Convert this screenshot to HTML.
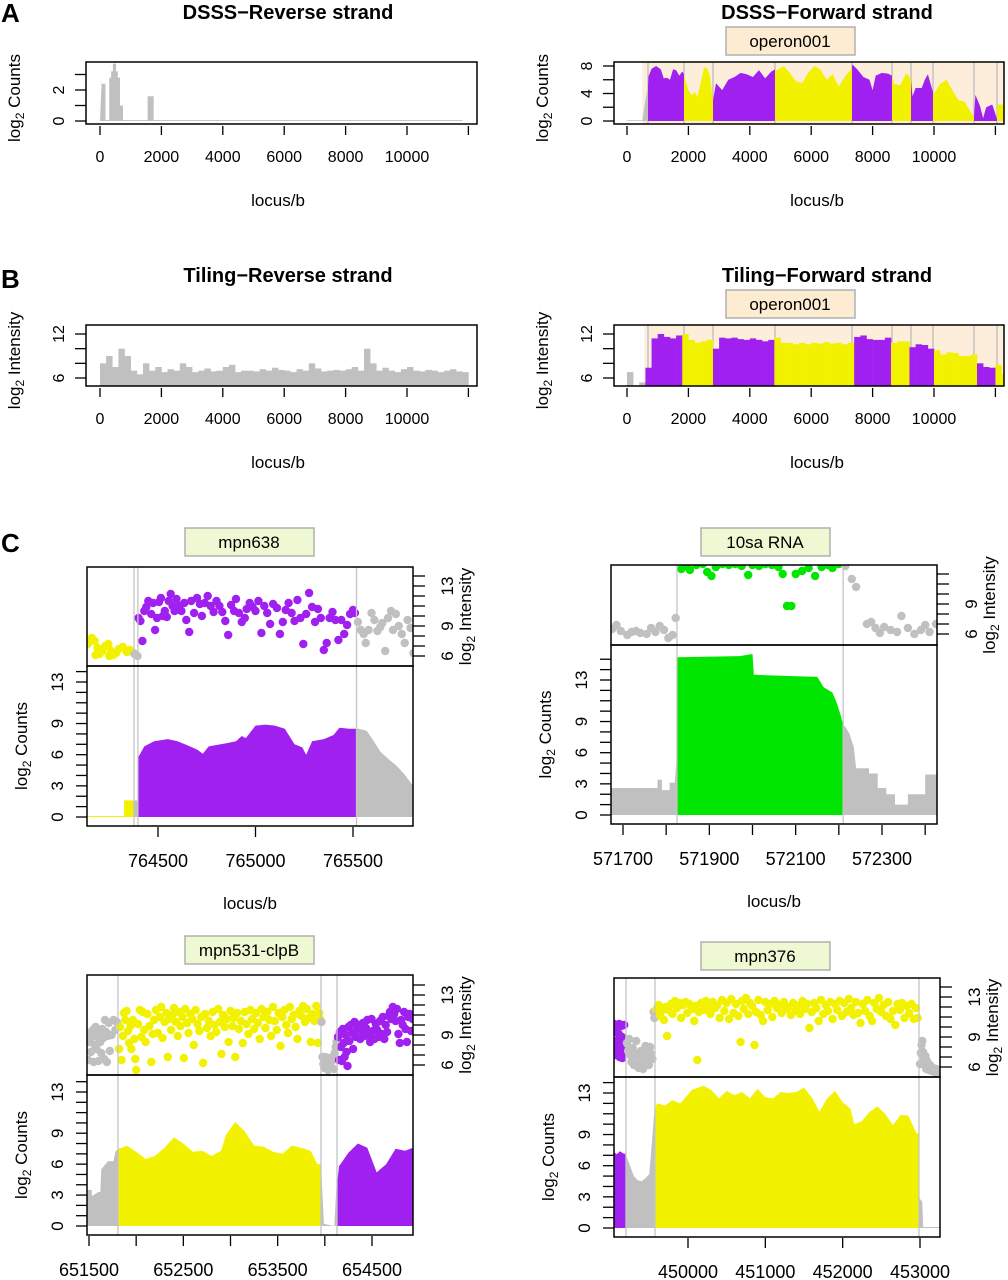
<!DOCTYPE html>
<html><head><meta charset="utf-8"><title>Transcription profiles</title>
<style>
html,body{margin:0;padding:0;background:#fff;}
svg{display:block;font-family:"Liberation Sans",Arial,sans-serif;}
</style></head>
<body>
<svg id="chart" width="1008" height="1280" viewBox="0 0 1008 1280" xmlns="http://www.w3.org/2000/svg"></svg>
<script>
// ---------- DATA ----------
const opBounds=[684,1857,2801,4821,7329,8632,9251,9967,11303,12052];
const opColors=['gray','purple','yellow','purple','yellow','purple','yellow','purple','yellow','purple','yellow'];
const aRevX=[0,0,60,60,180,180,300,300,360,360,420,420,520,520,580,580,650,650,750,750,1550,1550,1750,1750,11800];
const aRevY=[0,2.8,2.8,2.4,2.4,0.06,0.06,2.8,2.8,3.2,3.2,3.7,3.7,3.2,3.2,2.8,2.8,1.0,1.0,0.06,0.06,1.6,1.6,0.06,0.06];
const aFwdX=[0,500,600,684,700,800,950,1100,1200,1300,1400,1500,1600,1700,1800,1857,1900,2000,2100,2200,2300,2400,2500,2600,2700,2801,2900,3100,3300,3500,3700,3900,4100,4300,4500,4700,4821,4900,5100,5300,5500,5700,5900,6100,6300,6500,6700,6900,7100,7300,7350,7500,7700,7900,8000,8100,8300,8500,8632,8700,8900,9100,9251,9300,9400,9600,9700,9800,9967,10000,10200,10400,10600,10800,11000,11100,11303,11350,11500,11600,11700,11900,12052,12060,12280];
const aFwdY=[0.1,0.1,3,5,6.5,7.6,8,7.5,6.2,6.3,6,7.5,7.4,6.6,7.2,6.8,6,4.5,3.8,4.2,3.6,5.5,7.7,7.8,6.5,3,5.5,4.5,6,6.4,7,6.8,6.4,7.4,6.2,7.2,7.5,7.4,8,7,5.8,5.5,7,8,7.5,6,6.8,5,6.5,7.5,8.2,7.5,6.4,6,4.5,6.6,7,6.9,6.6,5.4,5.2,7,6,3.6,4.8,4.8,6,6.8,4.2,4,5.4,6,4.5,3,2.8,2,0.6,3.8,2.2,0.4,2,2.4,0.3,2.4,2.4];
const bStep=200;
const bRevVals=[8,9,7.5,10,9,7,6.5,8,7,7.5,6.8,7.2,7,8,7.5,6.8,7,7.3,6.9,7,7.5,7.8,6.8,7,7,6.9,7.2,7,7.4,7.1,7,6.8,7.2,7,8,7.3,6.9,7,7.1,7,7.2,7.5,7,10,8,7,7.4,7,6.8,7.2,7.5,7,6.9,7.1,7,6.8,7,7.2,6.9,6.8];
const bFwdVals=[6.8,5,5.4,7.4,11.4,12,11.6,11.4,11.8,12,11.2,10.8,11,11.2,10,11.5,11.4,11.5,11.3,11.2,11.4,11.2,11,11.2,11.5,10.8,10.8,10.6,10.8,10.6,10.8,10.7,10.9,10.7,10.8,10.6,10.8,11.6,11.8,11.3,11.2,11.2,11.5,10.8,11,11,10.2,10.6,10.5,10,9.8,9.2,9.5,9.4,9,9,9.2,8,7.5,7.4,7.8,6.5];
// C1 mpn638
const c1Bounds=[764377,764397,765518];
const c1Colors=['yellow','gray','purple','gray'];
const c1CntX=[764136,764326,764326,764397,764400,764430,764480,764550,764600,764650,764700,764730,764760,764850,764900,764930,764950,765000,765050,765100,765150,765200,765240,765260,765290,765350,765400,765430,765480,765518,765530,765570,765600,765640,765680,765720,765760,765800,765812];
const c1CntY=[0.1,0.1,1.6,1.6,5.8,6.8,7.3,7.5,7.3,6.9,6.5,6.1,6.8,7.1,7.3,7.8,7.6,8.8,8.9,8.8,8.5,7,6.7,6.0,7.3,7.5,7.9,8.6,8.5,8.5,8.5,8.3,7.5,6.3,5.6,5,4.2,3.2,3];
const c1PtX=[764140,764160,764175,764190,764200,764215,764230,764245,764260,764270,764285,764300,764320,764340,764355,764375,764180,764250,764380,764395,764400,764410,764420,764430,764440,764450,764465,764475,764485,764495,764505,764515,764525,764535,764545,764555,764565,764575,764585,764595,764610,764620,764635,764645,764660,764670,764685,764700,764715,764725,764740,764755,764770,764785,764800,764815,764830,764845,764860,764875,764890,764900,764915,764930,764945,764955,764970,764985,765000,765015,765030,765045,765060,765075,765090,765110,765125,765140,765155,765170,765185,765200,765215,765230,765245,765260,765275,765290,765305,765320,765335,765350,765365,765380,765395,765410,765425,765440,765455,765470,765485,765500,765510,765525,765540,765555,765565,765580,765595,765610,765625,765640,765650,765665,765680,765695,765705,765720,765735,765750,765765,765780,765795,765810];
const c1PtV=[7.2,7.8,7.5,6.8,6.2,6.5,7,7.2,6.5,6.1,6.3,6.7,6.9,6.4,6.6,6.3,6.1,6.0,6.2,6.0,9.8,9.5,7.5,10.5,10.9,11.5,10.2,11.3,8.6,9.8,11.4,11.8,10,10.5,9.9,11.5,12.2,11,10.5,11.7,11,10.5,11.3,9.6,8.4,11.5,10.3,11.8,11.2,10,11.3,12,11,10.4,11.5,11,10.4,9.5,8.1,11.1,10.5,11.7,10.3,9.4,9.8,10.7,11.3,10.9,10.5,11.5,8.3,11,10.3,9.2,11.2,10.8,8.2,9.4,10.6,11.3,10.3,9.5,11.6,9.8,7.2,10.2,12.3,10.9,9.4,10.7,9.8,6.6,7.3,9.8,10.4,9.6,7.6,9.6,8.2,9.1,10.2,10.6,10.3,9.4,8.6,8.2,7.3,8.6,10.3,9.6,8.5,8.9,9.3,6.5,9.8,10.5,8.6,10.2,9.0,8.2,7.3,9.6,8.8,6.3];
// C2 10sa RNA
const c2Bounds=[571825,572210];
const c2Colors=['gray','green','gray'];
const c2CntX=[571672,571780,571780,571790,571790,571808,571808,571820,571825,571826,571970,572000,572003,572150,572165,572185,572195,572205,572210,572215,572225,572235,572240,572270,572270,572290,572290,572310,572310,572330,572330,572360,572360,572400,572400,572430];
const c2CntY=[2.6,2.6,3.4,3.4,2.4,2.4,3.1,3.1,6,15.2,15.3,15.5,13.5,13.3,12.3,11.8,10.8,9.5,8.7,8.5,7.8,6.5,4.5,4.5,4.0,4.0,2.6,2.6,2.0,2.0,1.0,1.0,2.0,2.0,3.9,3.9];
const c2PtX=[571675,571685,571695,571710,571720,571730,571740,571755,571765,571775,571785,571795,571805,571815,571822,571835,571845,571855,571870,571885,571895,571905,571915,571930,571945,571960,571975,571990,572000,572015,572030,572045,572060,572070,572080,572090,572100,572115,572130,572145,572160,572175,572185,572200,572215,572230,572240,572265,572275,572285,572295,572305,572320,572335,572345,572360,572375,572390,572400,572410,572425];
const c2PtV=[6.5,6.9,6.3,5.9,6.2,6.3,6.1,6.0,6.6,6.2,6.8,6.4,5.6,5.9,7.6,12.5,12.8,12.4,12.9,13,12.2,11.8,12.7,13,12.9,13,12.8,11.9,12.9,12.8,13,12.9,12.7,12,8.8,8.8,12,12.3,12.6,11.8,12.7,12.9,12.6,13,12.8,11.5,10.7,7,7.2,6.6,6.1,6.7,6.4,6.2,7.8,6.6,6.0,6.4,6.9,6.2,7.0];
// C3 mpn531-clpB
const c3Bounds=[651807,653959,654129];
const c3Colors=['gray','yellow','gray','purple'];
const c3CntX=[651479,651530,651530,651600,651620,651630,651700,651760,651780,651807,651850,651900,652000,652100,652200,652300,652400,652500,652600,652700,652800,652900,652950,653050,653150,653250,653350,653450,653550,653650,653750,653850,653920,653959,653960,653990,654100,654120,654129,654150,654250,654350,654450,654550,654650,654750,654850,654935];
const c3CntY=[3.5,3.5,2.9,3.3,3.3,5.5,6.3,6.3,7.2,7.5,7.6,7.8,7.2,6.5,6.8,7.6,8.6,8.0,7.2,7.3,6.8,7.3,8.8,10.1,9.2,7.8,7.7,7.2,7.0,7.8,7.6,7.3,6.0,6.0,5.7,0.2,0,3.5,4,5.8,7.1,8.0,7.6,5.2,6.0,7.5,7.3,7.6];
const c3PtX=[651490,651500,651510,651520,651530,651540,651550,651560,651570,651580,651590,651600,651610,651620,651630,651640,651650,651660,651670,651680,651690,651700,651710,651720,651740,651760,651780,651795,651820,651830,651845,651860,651870,651885,651900,651915,651925,651940,651950,651965,651980,651990,652000,652020,652040,652055,652070,652085,652100,652120,652140,652160,652175,652190,652210,652230,652250,652265,652280,652300,652320,652335,652350,652370,652385,652400,652420,652440,652455,652470,652490,652505,652520,652540,652555,652575,652595,652610,652630,652650,652670,652690,652710,652730,652750,652770,652790,652810,652830,652850,652870,652890,652905,652920,652940,652960,652980,653000,653020,653035,653050,653070,653090,653110,653130,653150,653170,653190,653210,653230,653250,653270,653290,653310,653330,653350,653370,653390,653410,653430,653450,653470,653490,653510,653530,653550,653570,653590,653610,653630,653650,653670,653690,653710,653730,653750,653770,653790,653810,653830,653850,653870,653890,653910,653925,653940,653950,653965,653975,653985,653995,654005,654015,654025,654035,654045,654055,654065,654075,654085,654095,654105,654115,654125,654140,654150,654160,654170,654180,654190,654200,654210,654220,654230,654240,654250,654260,654275,654290,654300,654315,654330,654345,654360,654375,654390,654405,654420,654435,654450,654465,654480,654495,654510,654525,654540,654555,654570,654585,654600,654615,654630,654645,654660,654675,654690,654705,654720,654735,654750,654765,654780,654795,654810,654825,654840,654855,654870,654885,654900,654915,654930];
const c3PtV=[6.5,8.3,9.2,7.3,8.8,9.5,6.3,8.0,9.8,7.6,8.8,6.4,9.2,8.3,7.2,9.6,8.7,6.6,10.5,9.3,6.3,8.9,10.2,7.4,9.0,10.5,9.5,10.3,7.6,9.8,6.5,8.9,11.2,10.5,11.4,9.4,8.2,9.9,7.6,10.5,8.6,6.6,5.5,10.1,11.5,8.8,11.3,9.5,8.3,11.1,9.9,6.3,9.1,10.5,11.5,9.2,10.8,11.8,8.7,10.3,11.2,6.8,10.6,9.5,11.0,11.7,10.3,8.9,11.3,9.9,10.8,6.7,11.6,10.2,9.2,11.1,10.6,8.0,11.5,10.1,9.4,10.8,6.2,11.1,9.7,10.4,8.9,11.3,10.0,9.3,11.6,10.3,7.1,11.0,9.8,10.6,8.3,11.4,9.9,10.7,6.8,11.2,9.6,10.4,8.2,11.3,10.1,9.1,11.5,10.6,9.6,11.2,10.2,8.6,11.6,10.8,9.7,11.3,10.5,8.9,11.8,10.4,9.5,11.2,7.9,10.8,11.5,10.0,9.2,11.8,10.6,11.0,9.8,8.6,11.4,10.9,11.9,10.3,11.6,10.7,8.3,11.1,10.4,11.9,8.2,11.2,10.6,10.3,6.8,6.1,5.7,6.8,5.9,6.6,5.5,6.7,6.0,5.8,6.4,6.8,5.6,7.2,7.8,8.3,8.8,6.5,9.3,7.8,6.4,9.6,8.2,6.8,9.0,7.3,5.9,9.8,8.4,10.0,9.2,7.6,10.3,8.8,9.6,10.0,8.6,9.4,10.2,8.9,9.7,10.5,9.0,8.3,10.6,9.4,8.6,10.1,9.5,8.8,10.4,9.1,10.8,8.6,10.0,9.3,10.9,11.3,10.6,11.8,11.1,10.4,11.6,9.1,8.2,10.5,10.0,11.3,9.6,8.3,10.8,11.1,9.4,10.6];
// C4 mpn376
const c4Bounds=[449198,449573,452987];
const c4Colors=['purple','gray','yellow','gray'];
const c4CntX=[449043,449080,449120,449160,449198,449200,449250,449300,449350,449400,449450,449500,449530,449560,449573,449600,449700,449800,449900,450050,450200,450300,450400,450500,450600,450700,450800,450900,451000,451100,451200,451300,451400,451500,451600,451700,451800,451900,452000,452100,452150,452250,452350,452450,452550,452650,452750,452850,452950,452987,452990,453030,453040,453259];
const c4CntY=[7.3,7.1,7.4,7.2,7.1,7.0,6.0,5.0,4.6,4.5,4.8,5.2,8,10.8,11.5,12.0,11.8,12.3,12.0,13.3,13.7,13.3,12.5,13.2,12.8,13.1,12.5,13.4,12.6,12.5,13.1,13,13.1,13.5,12.6,11.2,12.5,13.2,12.1,11.5,10.0,10.3,11.2,11.7,11.0,9.9,10.9,10.8,9.2,9.0,2.9,2.5,0.1,0.1];
const c4PtX=[449045,449055,449065,449075,449085,449095,449105,449115,449125,449135,449145,449155,449165,449175,449185,449060,449110,449150,449210,449225,449240,449255,449270,449285,449300,449315,449330,449345,449360,449375,449390,449405,449420,449435,449450,449465,449480,449495,449510,449525,449540,449555,449565,449590,449620,449640,449660,449690,449710,449730,449750,449780,449800,449830,449860,449890,449910,449940,449970,449990,450020,450050,450080,450100,450120,450140,450170,450200,450230,450260,450290,450320,450350,450380,450410,450440,450470,450500,450530,450560,450590,450620,450650,450680,450700,450720,450750,450780,450800,450830,450860,450880,450910,450940,450970,451000,451030,451060,451090,451120,451150,451180,451210,451240,451270,451300,451330,451360,451390,451420,451450,451480,451510,451540,451570,451600,451630,451660,451690,451720,451750,451780,451810,451840,451870,451900,451930,451960,451990,452020,452050,452080,452110,452140,452170,452200,452230,452260,452290,452320,452350,452380,452410,452440,452470,452500,452530,452560,452590,452620,452650,452680,452710,452740,452770,452800,452830,452860,452890,452920,452950,452970,453000,453010,453020,453030,453040,453050,453060,453070,453080,453090,453100,453115,453130,453150,453170,453190,453210,453240];
const c4PtV=[10.3,9.5,8.2,9.9,7.5,8.7,9.3,7.0,8.1,10.1,9.0,8.5,7.6,10.2,8.6,7.2,10.3,6.9,8.4,7.6,8.8,7.2,6.5,7.9,6.2,7.4,8.6,7.1,5.9,6.7,7.6,6.3,5.8,7.2,8.1,6.6,7.8,6.2,8.0,7.3,6.8,11.5,10.9,11.8,12.2,11.1,11.6,10.7,12.0,9.1,11.7,12.3,11.3,12.6,11.9,12.4,10.9,12.2,12.5,11.4,12.3,11.8,10.6,12.1,6.7,11.5,12.4,11.7,12.6,12.0,11.3,12.5,11.9,12.2,10.9,12.7,11.6,12.4,10.8,12.8,11.4,12.3,11.1,8.5,12.6,11.8,12.9,11.3,12.4,12.1,8.2,11.5,12.7,11.2,10.6,12.5,11.7,12.3,11.0,12.6,11.9,12.2,11.4,12.5,11.8,12.0,11.2,12.4,11.6,12.1,11.3,12.6,11.8,12.3,9.9,11.5,12.4,11.9,10.6,12.7,11.3,12.2,11.6,12.5,10.8,12.3,11.7,12.6,11.1,12.4,11.5,12.8,11.9,11.2,12.5,11.4,10.4,12.3,11.6,12.7,11.1,10.6,12.4,11.8,12.9,11.5,12.2,11.1,12.5,10.8,11.6,10.2,12.3,11.7,12.4,10.9,12.1,11.4,12.3,10.8,11.9,10.9,6.3,7.4,8.2,8.6,7.5,6.9,6.3,7.1,5.8,6.6,6.0,5.7,6.2,5.6,5.9,5.5,5.8,5.5];

// ---------- HELPERS ----------
const NS='http://www.w3.org/2000/svg';
const svg=document.getElementById('chart');
const COL={purple:'#a020f0',yellow:'#f2f200',green:'#00e600',gray:'#c0c0c0'};
function mk(tag,attrs,parent){const e=document.createElementNS(NS,tag);for(const k in attrs)e.setAttribute(k,attrs[k]);(parent||svg).appendChild(e);return e;}
function lin(d0,d1,r0,r1){return v=>r0+(v-d0)*(r1-r0)/(d1-d0);}
function interp(xs,ys,x){if(x<=xs[0])return ys[0];for(let i=0;i<xs.length-1;i++){if(x>=xs[i]&&x<=xs[i+1]){if(xs[i+1]===xs[i])return ys[i+1];return ys[i]+(ys[i+1]-ys[i])*(x-xs[i])/(xs[i+1]-xs[i]);}}return ys[ys.length-1];}
function colorAt(x,bounds,colors){let i=0;while(i<bounds.length&&x>=bounds[i])i++;return COL[colors[i]];}
function areaSegments(g,xs,ys,bounds,colors,sx,sy,lo,hi){
  const edges=[lo,...bounds.filter(b=>b>lo&&b<hi),hi];
  for(let k=0;k<edges.length-1;k++){
    const a=edges[k],b=edges[k+1];
    const pts=[[a,interp(xs,ys,a)]];
    xs.forEach((x,i)=>{if(x>a&&x<b)pts.push([x,ys[i]]);});
    pts.push([b,interp(xs,ys,b)]);
    let d='M'+sx(a).toFixed(1)+','+sy(0).toFixed(1);
    pts.forEach(p=>{d+=' L'+sx(p[0]).toFixed(1)+','+sy(p[1]).toFixed(1);});
    d+=' L'+sx(b).toFixed(1)+','+sy(0).toFixed(1)+' Z';
    const path=mk('path',{d:d,fill:colorAt((a+b)/2,bounds,colors)},g);
    
    
  }
}
function txt(x,y,s,size,extra,parent){const t=mk('text',Object.assign({x:x,y:y,'font-size':size,'text-anchor':'middle',fill:'#000'},extra||{}),parent);t.textContent=s;return t;}
function logLabel(x,y,word,parent){
  const t=mk('text',{x:x,y:y,'font-size':17,'text-anchor':'middle',transform:'rotate(-90 '+x+' '+y+')'},parent);
  t.innerHTML='log<tspan font-size="12" dy="4">2</tspan><tspan dy="-4"> '+word+'</tspan>';
  return t;
}
function clip(id,x,y,w,h){const c=mk('clipPath',{id:id});mk('rect',{x:x,y:y,width:w,height:h},c);return 'url(#'+id+')';}

// ---------- LETTERS ----------
[['A',22],['B',288],['C',552]].forEach(([L,y])=>{
  const t=txt(1,y,L,26,{'font-weight':'bold','text-anchor':'start'});
  
  
});

// ---------- TOP PANELS (A,B) ----------
function topPanel(cfg){
  const g=mk('g',{});
  
  
  const sx=lin(0,10000,cfg.x0,cfg.x0+307);
  const sy=lin(cfg.yA,cfg.yB,cfg.pyA,cfg.pyB);
  const title=txt(cfg.titleX,cfg.top-43,cfg.title,20,{'font-weight':'bold'},g);
  
  
  const cp=clip(cfg.name+'-clip',cfg.left,cfg.top,cfg.right-cfg.left,cfg.bottom-cfg.top);
  const pg=mk('g',{'clip-path':cp},g);
  if(cfg.shade){
    const sh=mk('rect',{x:sx(cfg.shade),y:cfg.top,width:cfg.right-sx(cfg.shade),height:cfg.bottom-cfg.top,fill:'#fdeedb'},pg);
    
    
    opBounds.forEach(b=>{
      const l=mk('line',{x1:sx(b),x2:sx(b),y1:cfg.top,y2:cfg.bottom,stroke:'#bdbdbd','stroke-width':1.3},pg);
      
      
    });
  }
  cfg.draw(pg,sx,sy);
  const box=mk('rect',{x:cfg.left,y:cfg.top,width:cfg.right-cfg.left,height:cfg.bottom-cfg.top,fill:'none',stroke:'#000','stroke-width':1.5},g);
  
  
  for(let v=0;v<=12000;v+=2000){
    const tk=mk('line',{x1:sx(v),x2:sx(v),y1:cfg.bottom+2,y2:cfg.bottom+11,stroke:'#000','stroke-width':1.3},g);
    
    
    if(v<=10000){
      const tl=txt(sx(v),cfg.bottom+38,String(v),16,{},g);
      
      
    }
  }
  cfg.yticks.forEach(v=>{
    const tk=mk('line',{x1:cfg.left-11,x2:cfg.left,y1:sy(v),y2:sy(v),stroke:'#000','stroke-width':1.3},g);
    
    
  });
  cfg.ylabels.forEach(v=>{
    const x=cfg.left-28,y=sy(v);
    const tl=txt(x,y+6,String(v),16,{transform:'rotate(-90 '+x+' '+y+')'},g);
    
    
  });
  const yl=logLabel(cfg.left-66,(cfg.top+cfg.bottom)/2+5,cfg.ylab,g);
  
  
  const xl=txt(cfg.titleX-10,cfg.bottom+82,'locus/b',17,{},g);
  
  
  if(cfg.shade){
    const lb=mk('rect',{x:726,y:cfg.top-35,width:129,height:28,fill:'#fdebd2',stroke:'#b0b0b0','stroke-width':1.5},g);
    
    
    const lt=txt(790,cfg.top-15,'operon001',17,{},g);
    
    
  }
}
topPanel({name:'dsss-reverse-panel',title:'DSSS\u2212Reverse strand',titleX:288,left:86,right:477,top:62,bottom:124,x0:100,yA:0,yB:2,pyA:121,pyB:90,yticks:[0,1,2,3],ylabels:[0,2],ylab:'Counts',
  draw:(g,sx,sy)=>areaSegments(g,aRevX,aRevY,[],['gray'],sx,sy,0,11800)});
topPanel({name:'dsss-forward-panel',title:'DSSS\u2212Forward strand',titleX:827,left:614,right:1004,top:62,bottom:124,x0:627,yA:0,yB:8,pyA:121,pyB:66,yticks:[0,2,4,6,8],ylabels:[0,4,8],ylab:'Counts',shade:500,
  draw:(g,sx,sy)=>areaSegments(g,aFwdX,aFwdY,opBounds,opColors,sx,sy,0,12280)});
function bars(vals,bounds,colors){return (g,sx,sy)=>{
  vals.forEach((v,i)=>{
    const x=i*bStep;
    const r=mk('rect',{x:sx(x),y:sy(v),width:sx(x+bStep)-sx(x)+0.3,height:sy(4)-sy(v),fill:colorAt(x+bStep/2,bounds,colors)},g);
    
    
  });
};}
topPanel({name:'tiling-reverse-panel',title:'Tiling\u2212Reverse strand',titleX:288,left:86,right:477,top:325,bottom:386,x0:100,yA:6,yB:12,pyA:378,pyB:334,yticks:[6,8,10,12],ylabels:[6,12],ylab:'Intensity',
  draw:bars(bRevVals,[],['gray'])});
topPanel({name:'tiling-forward-panel',title:'Tiling\u2212Forward strand',titleX:827,left:614,right:1004,top:325,bottom:386,x0:627,yA:6,yB:12,pyA:378,pyB:334,yticks:[6,8,10,12],ylabels:[6,12],ylab:'Intensity',shade:560,
  draw:bars(bFwdVals,opBounds,opColors)});

// ---------- C PANELS ----------
function cPanel(cfg){
  const g=mk('g',{});
  
  
  const sx=lin(cfg.xa,cfg.xb,cfg.pxa,cfg.pxb);
  const syC=lin(0,13,cfg.c0,cfg.c13);
  const syI=lin(6,14,cfg.i6,cfg.i14);
  const lo=cfg.xa+(cfg.left-cfg.pxa)*(cfg.xb-cfg.xa)/(cfg.pxb-cfg.pxa);
  const hi=cfg.xa+(cfg.right-cfg.pxa)*(cfg.xb-cfg.xa)/(cfg.pxb-cfg.pxa);
  const cc=clip(cfg.name+'-cclip',cfg.left,cfg.mid,cfg.right-cfg.left,cfg.bottom-cfg.mid);
  const ci=clip(cfg.name+'-iclip',cfg.left,cfg.top,cfg.right-cfg.left,cfg.mid-cfg.top);
  const cg=mk('g',{'clip-path':cc},g);
  const ig=mk('g',{'clip-path':ci},g);
  cfg.vlines.forEach(v=>{
    const l=mk('line',{x1:sx(v),x2:sx(v),y1:cfg.top,y2:cfg.bottom,stroke:'#c4c4c4','stroke-width':1.3},g);
    
    
  });
  areaSegments(cg,cfg.cx,cfg.cy,cfg.bounds,cfg.colors,sx,syC,Math.max(lo,cfg.cx[0]),Math.min(hi,cfg.cx[cfg.cx.length-1]));
  cfg.px.forEach((x,i)=>{
    const c=mk('circle',{cx:sx(x).toFixed(1),cy:syI(cfg.pv[i]).toFixed(1),r:4.2,fill:colorAt(x,cfg.bounds,cfg.colors)},ig);
    
    
  });
  const b1=mk('rect',{x:cfg.left,y:cfg.top,width:cfg.right-cfg.left,height:cfg.mid-cfg.top,fill:'none',stroke:'#000','stroke-width':1.5},g);
  
  
  const b2=mk('rect',{x:cfg.left,y:cfg.mid,width:cfg.right-cfg.left,height:cfg.bottom-cfg.mid,fill:'none',stroke:'#000','stroke-width':1.5},g);
  
  
  for(let v=0;v<=cfg.cmax;v++){
    const tk=mk('line',{x1:cfg.left-11,x2:cfg.left,y1:syC(v),y2:syC(v),stroke:'#000','stroke-width':1.3},g);
    
    
  }
  [0,3,6,9,13].forEach(v=>{
    const x=cfg.left-30,y=syC(v);
    const tl=txt(x,y+6,String(v),17,{transform:'rotate(-90 '+x+' '+y+')'},g);
    
    
  });
  for(let v=6;v<=cfg.imax;v++){
    const tk=mk('line',{x1:cfg.right,x2:cfg.right+12,y1:syI(v),y2:syI(v),stroke:'#000','stroke-width':1.3},g);
    
    
  }
  cfg.ilabels.forEach(v=>{
    const x=cfg.right+34,y=syI(v);
    const tl=txt(x,y+6,String(v),17,{transform:'rotate(-90 '+x+' '+y+')'},g);
    
    
  });
  cfg.xticks.forEach(v=>{
    const tk=mk('line',{x1:sx(v),x2:sx(v),y1:cfg.bottom+1,y2:cfg.bottom+11,stroke:'#000','stroke-width':1.3},g);
    
    
  });
  cfg.xlabels.forEach(v=>{
    const tl=txt(sx(v),cfg.bottom+41,String(v),18,{},g);
    
    
  });
  const yl=logLabel(cfg.left-60,(cfg.mid+cfg.bottom)/2,'Counts',g);
  
  
  const yr=logLabel(cfg.right+58,(cfg.top+cfg.mid)/2,'Intensity',g);
  
  
  if(cfg.locus){
    const xl=txt((cfg.left+cfg.right)/2,cfg.bottom+83,'locus/b',17,{},g);
    
    
  }
  const lb=mk('rect',{x:cfg.lx,y:cfg.ly,width:129,height:28,fill:'#eef8d2',stroke:'#b0b0b0','stroke-width':1.5},g);
  
  
  const lt=txt(cfg.lx+64,cfg.ly+20,cfg.label,17,{},g);
  
  
}
cPanel({name:'mpn638-panel',label:'mpn638',lx:185,ly:528,left:87,right:413,top:567,mid:666,bottom:826,xa:764500,xb:765500,pxa:158,pxb:353,c0:817,c13:682,i6:656,i14:576,cmax:14,imax:14,ilabels:[6,9,13],
  bounds:c1Bounds,colors:c1Colors,cx:c1CntX,cy:c1CntY,px:c1PtX,pv:c1PtV,vlines:[764377,764397,765518],xticks:[764500,765000,765500],xlabels:[764500,765000,765500],locus:true});
cPanel({name:'10sa-rna-panel',label:'10sa RNA',lx:701,ly:528,left:611,right:937,top:565,mid:645,bottom:824,xa:571700,xb:572300,pxa:623,pxb:882,c0:815,c13:680,i6:634,i14:554,cmax:15,imax:12,ilabels:[6,9],
  bounds:c2Bounds,colors:c2Colors,cx:c2CntX,cy:c2CntY,px:c2PtX,pv:c2PtV,vlines:[571825,572210],xticks:[571700,571800,571900,572000,572100,572200,572300,572400],xlabels:[571700,571900,572100,572300],locus:true});
cPanel({name:'mpn531-clpb-panel',label:'mpn531-clpB',lx:185,ly:936,left:87,right:413,top:975,mid:1075,bottom:1235,xa:651500,xb:654500,pxa:89,pxb:372,c0:1226,c13:1092,i6:1065,i14:985,cmax:14,imax:14,ilabels:[6,9,13],
  bounds:c3Bounds,colors:c3Colors,cx:c3CntX,cy:c3CntY,px:c3PtX,pv:c3PtV,vlines:[651807,653959,654129],xticks:[651500,652000,652500,653000,653500,654000,654500],xlabels:[651500,652500,653500,654500],locus:false});
cPanel({name:'mpn376-panel',label:'mpn376',lx:701,ly:942,left:614,right:940,top:978,mid:1077,bottom:1237,xa:450000,xb:453000,pxa:688,pxb:920,c0:1228,c13:1093,i6:1067,i14:987,cmax:14,imax:14,ilabels:[6,9,13],
  bounds:c4Bounds,colors:c4Colors,cx:c4CntX,cy:c4CntY,px:c4PtX,pv:c4PtV,vlines:[449198,449573,452987],xticks:[450000,451000,452000,453000],xlabels:[450000,451000,452000,453000],locus:false});
</script>
</body></html>
